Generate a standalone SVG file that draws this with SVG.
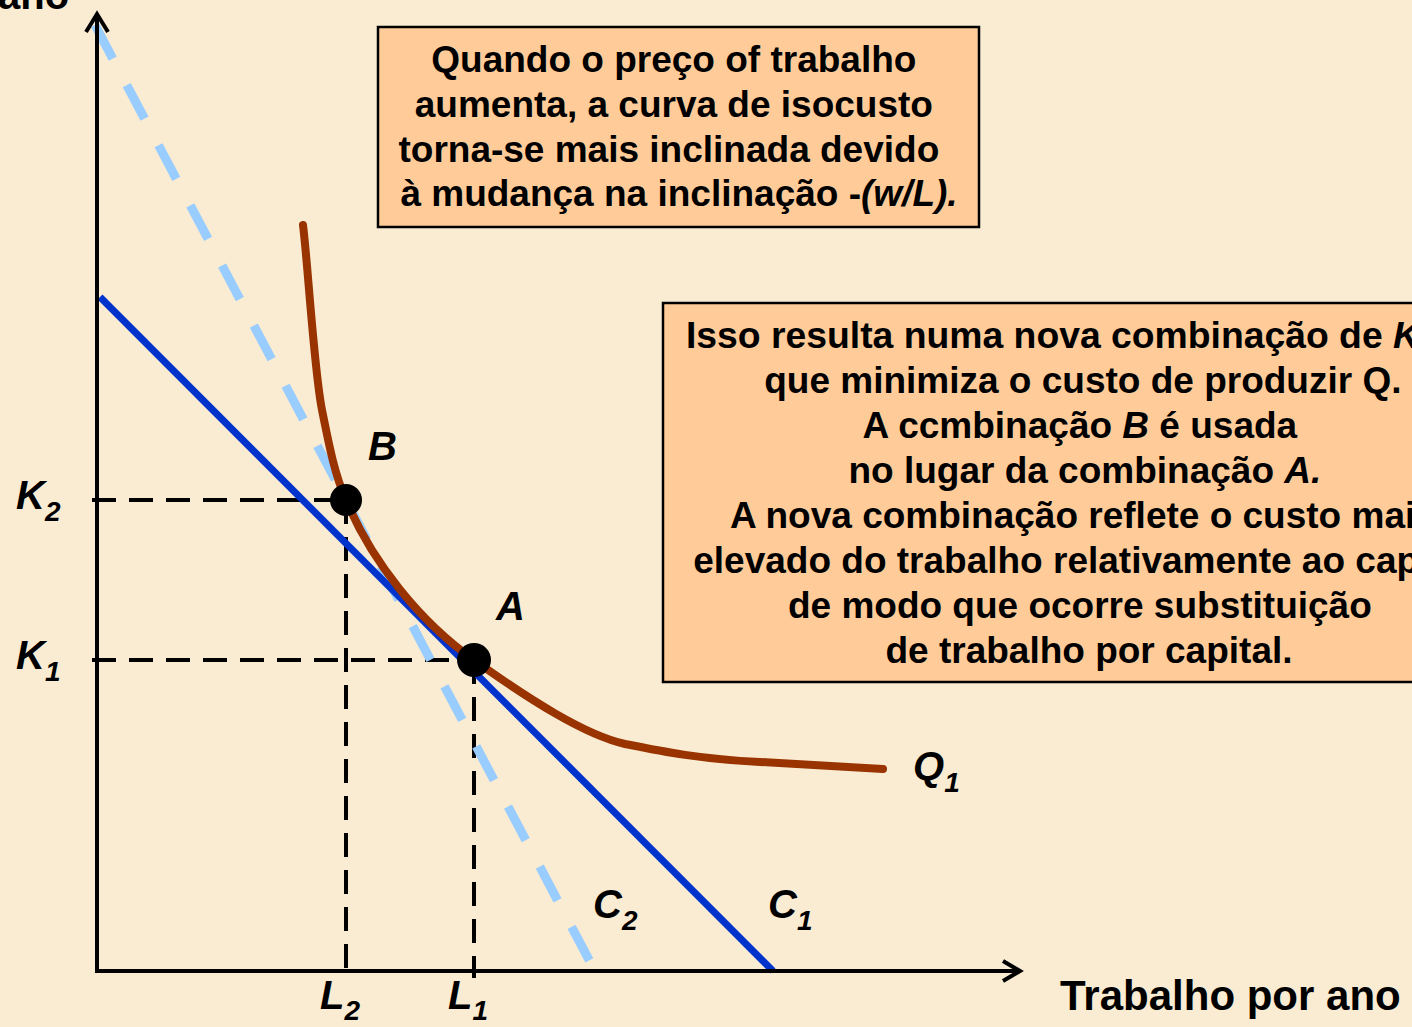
<svg xmlns="http://www.w3.org/2000/svg" width="1412" height="1027" viewBox="0 0 1412 1027">
<defs>
<style>
.t{font-family:"Liberation Sans",Arial,sans-serif;font-weight:bold;fill:#000}
.lbl{font-family:"Liberation Sans",Arial,sans-serif;font-weight:bold;font-style:italic;font-size:40px;fill:#000}
.sub{font-size:28px}
.box{fill:#FFCC99;stroke:#000;stroke-width:2.5}
.axis{stroke:#000;stroke-width:4;fill:none}
.guide{stroke:#000;stroke-width:4;stroke-dasharray:24 13;fill:none}
</style>
</defs>
<rect width="1412" height="1027" fill="#F9ECD3"/>
<text class="t" x="-2" y="9" font-size="40">ano</text>
<g id="connectors">
<line class="guide" x1="92" y1="500" x2="346" y2="500"/>
<line class="guide" x1="92" y1="660" x2="474" y2="660"/>
<line class="guide" x1="346" y1="500" x2="346" y2="978"/>
<line class="guide" x1="474" y1="660" x2="474" y2="978"/>
<line id="C2" x1="95" y1="25" x2="597" y2="975" stroke="#99CCFF" stroke-width="9" stroke-dasharray="38 30"/>
<line id="C1" x1="100" y1="297" x2="773" y2="971" stroke="#0033CC" stroke-width="7"/>
<path id="Q1" d="M303,225 C308,265 314,370 322,410 C330,450 335,475 346,500 C372,562 420,622 474,660 C530,700 585,735 625,744 C665,752 700,759 760,762 L883,769" fill="none" stroke="#993300" stroke-width="8" stroke-linecap="round"/>
<path class="axis" d="M97,972 L97,14"/>
<path d="M86,32 L97,14 L108,32" fill="none" stroke="#000" stroke-width="4"/>
<path class="axis" d="M95,971 L1020,971"/>
<path d="M1003,961 L1020,971 L1003,981" fill="none" stroke="#000" stroke-width="4"/>
</g>
<g id="pointB"><circle cx="346" cy="500" r="16" fill="#000"/><text class="lbl" x="368" y="460">B</text></g>
<g id="pointA"><circle cx="474" cy="660" r="17" fill="#000"/><text class="lbl" x="496" y="620">A</text></g>
<g id="labelK2"><text class="lbl" x="16" y="509">K<tspan class="sub" dy="12">2</tspan></text></g>
<g id="labelK1"><text class="lbl" x="16" y="669">K<tspan class="sub" dy="12">1</tspan></text></g>
<g id="labelL2"><text class="lbl" x="320" y="1009">L<tspan class="sub" dy="11">2</tspan></text></g>
<g id="labelL1"><text class="lbl" x="448" y="1009">L<tspan class="sub" dy="11">1</tspan></text></g>
<g id="labelC2"><text class="lbl" x="593" y="918">C<tspan class="sub" dy="12">2</tspan></text></g>
<g id="labelC1"><text class="lbl" x="768" y="918">C<tspan class="sub" dy="12">1</tspan></text></g>
<g id="labelQ1"><text class="lbl" x="913" y="780">Q<tspan class="sub" dy="12">1</tspan></text></g>
<g id="xlabel"><text class="t" x="1060" y="1010" font-size="42">Trabalho por ano</text></g>
<g id="box1">
<rect class="box" x="378" y="27" width="601" height="200"/>
<text class="t" font-size="37" text-anchor="middle">
<tspan x="679" y="72">Quando o preço of trabalho</tspan>
<tspan x="679" y="117">aumenta, a curva de isocusto</tspan>
<tspan x="674" y="162">torna-se mais inclinada devido</tspan>
<tspan x="679" y="206">à mudança na inclinação -<tspan font-style="italic">(w/L).</tspan></tspan>
</text>
</g>
<g id="box2">
<rect class="box" x="663" y="303" width="760" height="379"/>
<text class="t" font-size="37" x="686" y="348" textLength="734" lengthAdjust="spacingAndGlyphs">Isso resulta numa nova combinação de <tspan font-style="italic">K</tspan></text>
<text class="t" font-size="37" text-anchor="middle">
<tspan x="1088" y="393">que minimiza o custo  de produzir Q.</tspan>
<tspan x="1085" y="438">A ccmbinação <tspan font-style="italic">B</tspan> é usada</tspan>
<tspan x="1090" y="483">no lugar da combinação <tspan font-style="italic">A.</tspan></tspan>
<tspan x="1088" y="528">A nova combinação reflete o custo mais</tspan>
<tspan x="1088" y="573">elevado do  trabalho relativamente ao capital</tspan>
<tspan x="1085" y="618">de modo que ocorre substituição</tspan>
<tspan x="1089" y="663">de trabalho por capital.</tspan>
</text>
</g>
</svg>
